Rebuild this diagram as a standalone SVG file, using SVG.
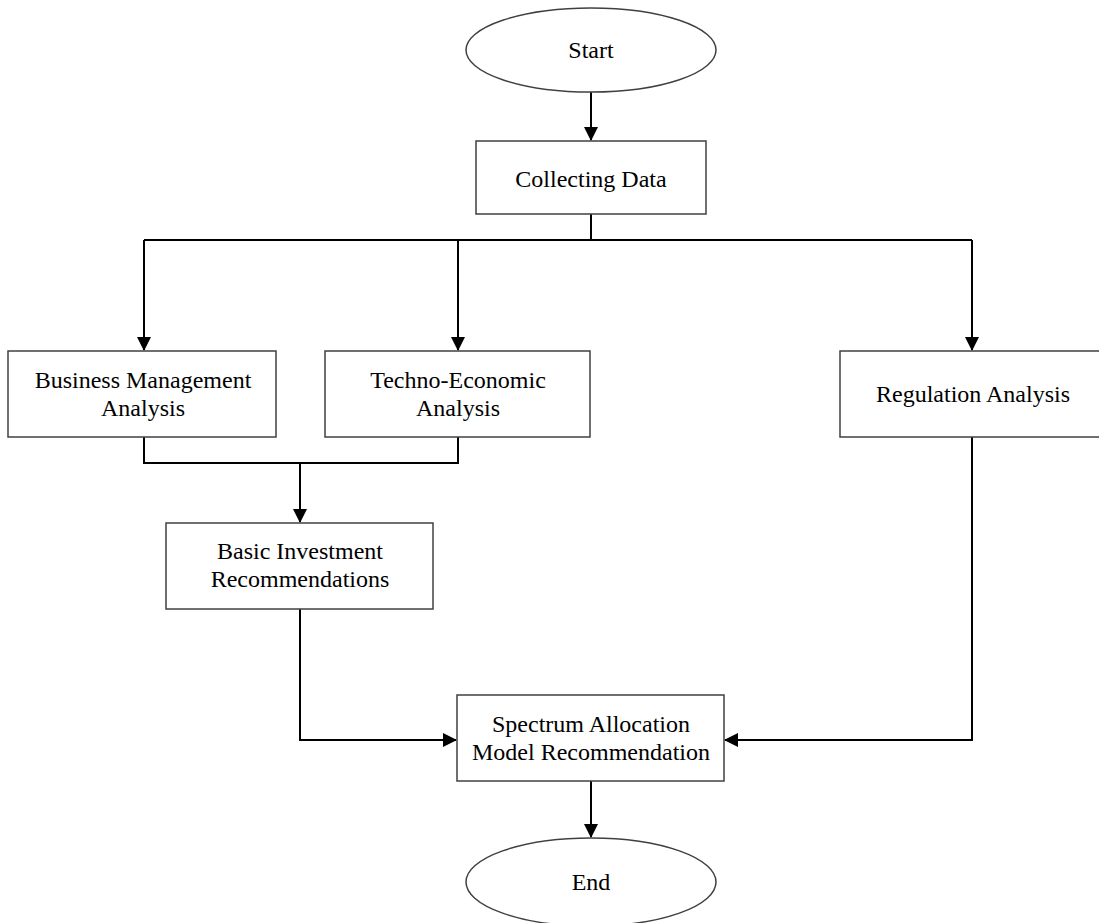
<svg xmlns="http://www.w3.org/2000/svg" width="1099" height="923" viewBox="0 0 1099 923">
<style>
.box{fill:#fff;stroke:#404040;stroke-width:1.5}
.t{font-family:"Liberation Serif","Times New Roman",serif;font-size:24px;fill:#000;text-anchor:middle}
.c{fill:none;stroke:#000;stroke-width:2}
</style>
<defs>
<marker id="ah2" viewBox="0 0 14 14" markerWidth="14" markerHeight="14" refX="13" refY="7" orient="auto" markerUnits="userSpaceOnUse">
<path d="M0,0 L14,7 L0,14 z" fill="#000"/>
</marker>
</defs>
<rect width="1099" height="923" fill="#fff"/>
<g id="connectors">
<path class="c" d="M591,92 V140" marker-end="url(#ah2)"/>
<path class="c" d="M591,214 V240 M144,240 H972"/>
<path class="c" d="M144,240 V350" marker-end="url(#ah2)"/>
<path class="c" d="M458,240 V350" marker-end="url(#ah2)"/>
<path class="c" d="M972,240 V350" marker-end="url(#ah2)"/>
<path class="c" d="M144,437 V463 H458 V437"/>
<path class="c" d="M300,463 V522" marker-end="url(#ah2)"/>
<path class="c" d="M300,609 V740 H456" marker-end="url(#ah2)"/>
<path class="c" d="M972,437 V740 H725" marker-end="url(#ah2)"/>
<path class="c" d="M591,781 V837" marker-end="url(#ah2)"/>
</g>
<g id="start">
<ellipse class="box" cx="591" cy="50" rx="125" ry="42"/>
<text class="t" x="591" y="58">Start</text>
</g>
<g id="collecting">
<rect class="box" x="476" y="141" width="230" height="73"/>
<text class="t" x="591" y="187">Collecting Data</text>
</g>
<g id="business">
<rect class="box" x="8" y="351" width="268" height="86"/>
<text class="t" x="143" y="388">Business Management</text>
<text class="t" x="143" y="416">Analysis</text>
</g>
<g id="techno">
<rect class="box" x="325" y="351" width="265" height="86"/>
<text class="t" x="458" y="388">Techno-Economic</text>
<text class="t" x="458" y="416">Analysis</text>
</g>
<g id="regulation">
<rect class="box" x="840" y="351" width="265" height="86"/>
<text class="t" x="973" y="402">Regulation Analysis</text>
</g>
<g id="basic">
<rect class="box" x="166" y="523" width="267" height="86"/>
<text class="t" x="300" y="559">Basic Investment</text>
<text class="t" x="300" y="587">Recommendations</text>
</g>
<g id="spectrum">
<rect class="box" x="457" y="695" width="267" height="86"/>
<text class="t" x="591" y="732">Spectrum Allocation</text>
<text class="t" x="591" y="760">Model Recommendation</text>
</g>
<g id="end">
<ellipse class="box" cx="591" cy="882" rx="125" ry="44"/>
<text class="t" x="591" y="890">End</text>
</g>
</svg>
